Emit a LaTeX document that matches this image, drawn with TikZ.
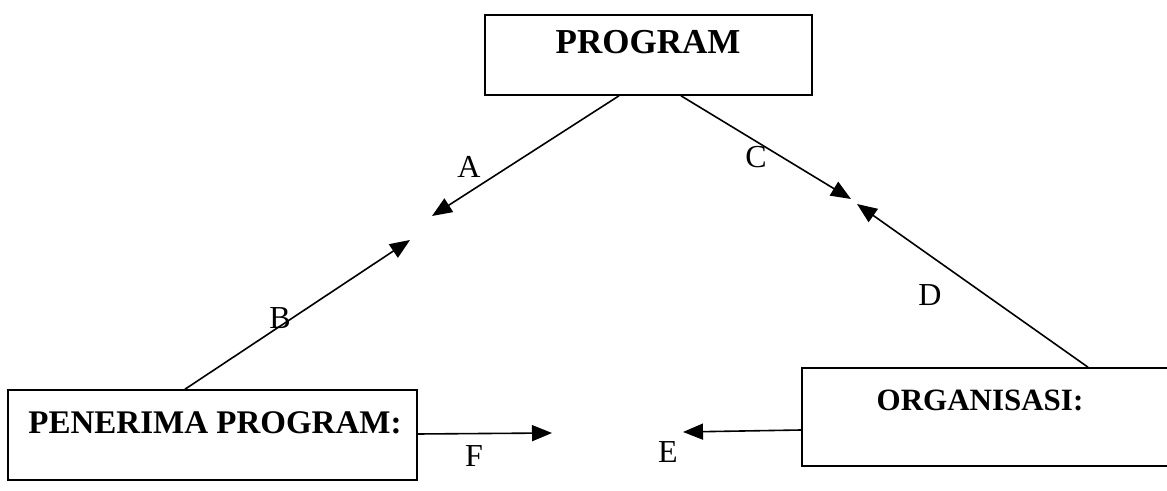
\documentclass[tikz,border=0pt]{standalone}
\usepackage{fontspec}
\setmainfont{Liberation Serif}
\usetikzlibrary{arrows.meta}

\tikzset{
	kotak/.style={draw, line width=0.8pt, inner sep=0pt},
	judul/.style={font=\bfseries\fontsize{16.5}{18}\selectfont, inner sep=0pt},
	huruf/.style={font=\fontsize{16}{18}\selectfont, inner sep=0pt},
	panah/.style={line width=0.8pt, -{Triangle[length=10pt, width=8pt]}}
}

\begin{document}
\begin{tikzpicture}[x=0.5pt, y=-0.5pt]
		\useasboundingbox (0,0) rectangle (1167,491);
		% kotak
		\node[kotak, minimum width=163.5pt, minimum height=40pt] (prog) at (648.5,55) {};
		\node[kotak, minimum width=204.5pt, minimum height=45pt] (terima) at (212.5,435) {};
		\node[kotak, minimum width=189pt, minimum height=49pt] (org) at (991,417) {};
		\node[judul, font=\bfseries\fontsize{17.5}{19}\selectfont] at (648,42) {PROGRAM};
		\node[judul] at (215,423) {PENERIMA PROGRAM:};
		\node[judul, font=\bfseries\fontsize{15.5}{17}\selectfont] at (980,400) {ORGANISASI:};
		% ujung panah
		\coordinate (ujungA) at (432,216);
		\coordinate (ujungB) at (410,240);
		\coordinate (ujungC) at (851,199);
		\coordinate (ujungD) at (857,204);
		\coordinate (ujungE) at (683,432);
		\coordinate (ujungF) at (552,433);
		\draw[panah] (prog.south -| 619,0) -- (ujungA);
		\draw[panah] (terima.north -| 185,0) -- (ujungB);
		\draw[panah] (prog.south -| 681,0) -- (ujungC);
		\draw[panah] (org.north -| 1088,0) -- (ujungD);
		\draw[panah] (org.west |- 0,430) -- (ujungE);
		\draw[panah] (terima.east |- 0,434) -- (ujungF);
		% label
		\node[huruf] at (469,167) {A};
		\node[huruf] at (280,318) {B};
		\node[huruf] at (756,157) {C};
		\node[huruf] at (930,295) {D};
		\node[huruf] at (668,452) {E};
		\node[huruf] at (474,456) {F};
	\end{tikzpicture}
\end{document}
